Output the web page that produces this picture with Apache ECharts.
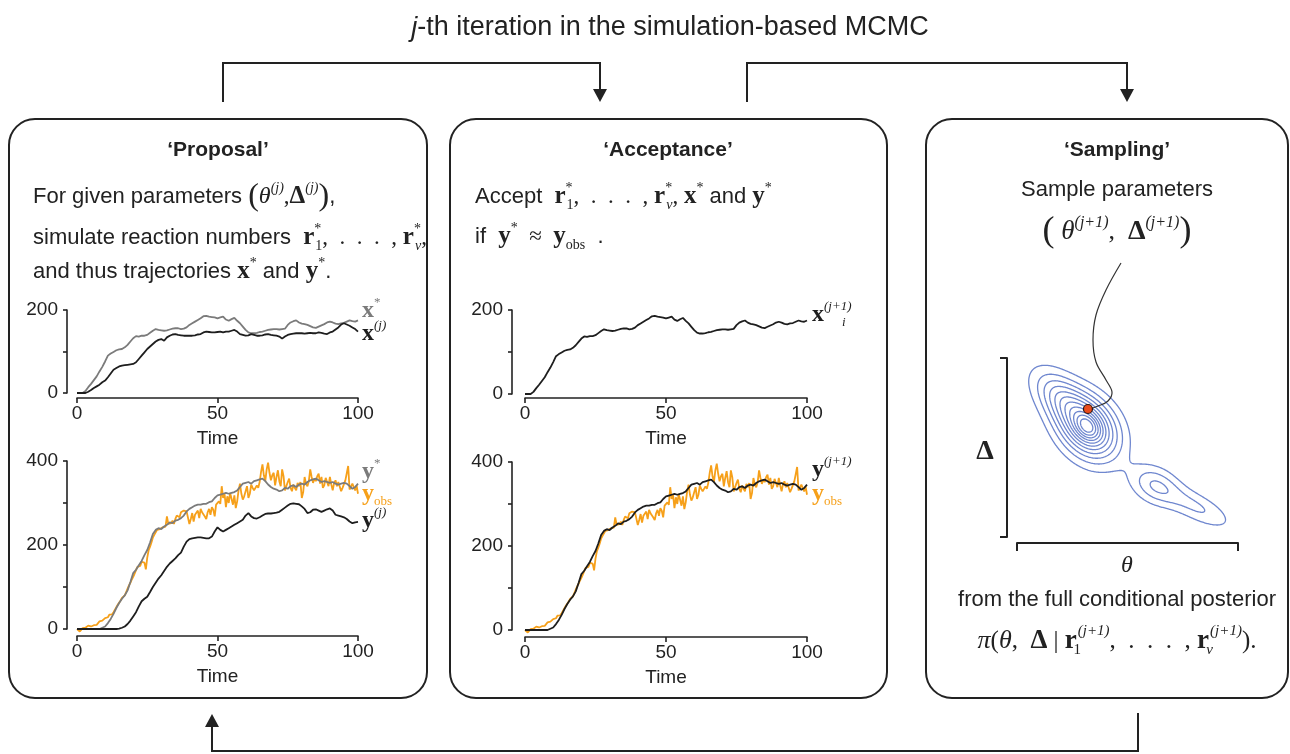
<!DOCTYPE html>
<html><head><meta charset="utf-8">
<script src="https://cdn.jsdelivr.net/npm/echarts@6/dist/echarts.min.js"></script>
<style>html,body{margin:0;padding:0;background:#fff}#c{width:1290px;height:754px}</style>
</head><body><div id="c"></div>
<script>
// ---------------- data ----------------
// trajectories sampled at t = 0,1,...,100
const xStar = [0,0,0,5,14,22,31,40,52,63,
  76,90,95,99,103,105,106,110,116,124,
  132,137,136,138,138,140,145,150,154,152,
  151,150,151,153,155,156,156,154,155,158,
  164,168,172,176,180,185,186,184,183,182,
  180,182,184,177,174,178,181,174,168,160,
  152,146,144,144,145,147,148,150,152,153,
  154,154,153,154,155,164,170,173,175,170,
  167,166,164,161,158,157,160,163,166,170,
  172,170,167,166,168,169,172,175,173,172,175];
const xPrev = [0,0,0,0,3,7,12,16,20,26,
  30,38,47,56,60,64,66,67,68,69,
  70,74,82,90,98,106,112,118,124,128,
  130,126,134,138,141,142,140,139,138,138,
  138,138,139,141,142,146,148,147,146,146,
  147,148,146,148,148,150,152,148,142,140,
  138,139,142,140,138,138,139,141,142,140,
  139,138,136,131,136,140,142,143,144,144,
  144,143,144,145,144,144,146,145,143,142,
  146,148,153,158,165,168,165,162,158,154,148];
const yStar = [0,0,0,0,0,0,0,0,0,3,
  6,14,24,36,50,62,72,80,92,112,
  133,141,152,162,176,188,206,226,236,240,
  238,244,248,254,252,258,260,264,270,280,
  286,290,294,296,296,298,298,302,304,312,
  318,320,322,324,322,324,326,330,338,346,
  348,350,346,352,354,356,358,352,344,338,
  334,332,328,330,336,334,340,342,338,344,
  346,344,350,354,356,358,354,350,352,350,
  348,350,346,344,346,348,346,340,334,338,346];
const yPrev = [0,0,0,0,0,0,0,0,0,0,
  0,0,0,0,0,1,3,6,12,20,
  30,40,54,66,72,77,88,100,110,120,
  128,138,148,156,162,168,176,182,196,208,
  214,216,217,218,218,217,216,216,220,232,
  242,236,232,236,240,244,248,252,256,260,
  270,276,268,264,263,266,270,274,275,275,
  276,277,279,284,289,294,298,299,298,297,
  292,286,276,278,284,285,282,279,282,285,
  287,282,272,270,268,266,262,256,252,254,255];
// observed data sampled at t = 0,0.5,...,100
const yObs = [0,-3,-6,-2,2,0,3,1,8,10,
  6,3,9,12,10,14,18,15,20,24,
  26,30,28,34,37,35,40,46,52,58,
  62,68,74,76,80,88,96,104,110,118,
  124,132,140,148,152,150,160,164,158,142,
  170,188,196,206,218,224,228,236,232,238,
  236,242,238,244,268,250,246,252,258,250,
  262,270,272,266,278,276,282,284,280,276,
  250,262,276,256,272,268,282,264,286,278,
  276,268,262,278,286,272,290,284,268,296,
  292,304,298,340,312,322,290,316,300,324,
  320,296,318,288,304,330,346,322,308,316,
  328,340,312,322,344,336,330,328,342,336,
  350,374,392,366,352,380,396,372,354,366,
  372,342,362,378,352,340,380,364,330,326,
  350,358,336,328,344,336,330,348,340,350,
  312,326,362,346,340,352,380,362,348,358,
  352,364,370,346,362,336,342,360,356,340,
  362,344,330,348,354,340,350,346,328,336,
  340,354,358,388,332,330,346,338,330,342,
  322];
const trajStep = 1, obsStep = 0.5;
const timeTicks = [0, 50, 100];
const xTickLabels = [0, 200];
const yTickLabels = [0, 200, 400];
// posterior density (mixture components) in (theta, Delta) units
const compTheta   = [3.21, 3.21, 2.0, 6.24, 8.1];
const compDelta   = [4.91, 4.91, 6.2, 2.32, 1.35];
const compSdMajor = [1.1, 0.45, 1.1, 0.8, 1.2];
const compSdMinor = [0.8, 0.33, 0.6, 0.55, 0.42];
const compAngle   = [-50, -50, -45, -27, -27];
const compHeight  = [0.75, 0.28, 0.35, 0.26, 0.2];
const contourLevels = [0.083,0.167,0.25,0.333,0.417,0.5,0.583,0.667,0.75,0.833,0.917];
const sampleTheta = 3.21, sampleDelta = 5.72;

// ---------------- styles ----------------
const INK = '#222222', GRAY = '#7b7b7b', BLACK = '#1e1e1e', ORANGE = '#f6a01a', BLUE = '#6f87cf';
const SANS = '"Liberation Sans", Arial, sans-serif';
const SERIF = '"Liberation Serif", "Times New Roman", serif';
const DOTS = ',  .  .  .  , ';

function R(base, color) {
  color = color || INK;
  const lh = Math.round(base * 1.4);
  const s = Math.round(base * 0.62);
  const sup = {fontFamily: SERIF, fontSize: s, fill: color, lineHeight: Math.round(lh * 0.62), verticalAlign: 'top'};
  const sub = {fontFamily: SERIF, fontSize: s, fill: color, lineHeight: Math.round(lh * 0.5), verticalAlign: 'bottom'};
  return {
    t: {fontFamily: SANS, fontSize: base, fill: color, lineHeight: lh},
    tb: {fontFamily: SANS, fontSize: base, fontWeight: 'bold', fill: color, lineHeight: lh},
    ti: {fontFamily: SANS, fontSize: base, fontStyle: 'italic', fill: color, lineHeight: lh},
    m: {fontFamily: SERIF, fontSize: base + 1, fill: color, lineHeight: lh},
    i: {fontFamily: SERIF, fontSize: base + 2, fontStyle: 'italic', fill: color, lineHeight: lh},
    b: {fontFamily: SERIF, fontSize: base + 3, fontWeight: 'bold', fill: color, lineHeight: lh},
    P: {fontFamily: SERIF, fontSize: Math.round(base * 1.45), fill: color, lineHeight: lh},
    sup: sup,
    supi: Object.assign({}, sup, {fontStyle: 'italic'}),
    supw: Object.assign({}, sup, {width: 1}),
    supiw: Object.assign({}, sup, {fontStyle: 'italic', width: 1}),
    sub: sub,
    subi: Object.assign({}, sub, {fontStyle: 'italic'}),
    subw: Object.assign({}, sub, {width: 1}),
    subiw: Object.assign({}, sub, {fontStyle: 'italic', width: 1}),
    subpad: Object.assign({}, sub, {fontStyle: 'italic', padding: [0, 0, 0, 17]})
  };
}
function txt(x, y, str, rich, align) {
  align = align || 'left';
  return {type: 'text', x: x, y: y, silent: true, z: 10,
    style: {text: str, rich: rich, align: align, textAlign: align, verticalAlign: 'middle', textVerticalAlign: 'middle'}};
}
function box(x, y, w, h) {
  return {type: 'rect', silent: true, shape: {x: x, y: y, width: w, height: h, r: 26},
    style: {fill: 'none', stroke: INK, lineWidth: 2}};
}
function pl(points) {
  return {type: 'polyline', silent: true, shape: {points: points}, style: {fill: 'none', stroke: INK, lineWidth: 2}};
}
function head(x, tipY, dir) {
  const h = 13, w = 7;
  return {type: 'polygon', silent: true, shape: {points: [[x - w, tipY - dir * h], [x + w, tipY - dir * h], [x, tipY]]}, style: {fill: INK}};
}

// ---------------- contour computation ----------------
function density(th, de) {
  let s = 0;
  for (let k = 0; k < compTheta.length; k++) {
    const a = compAngle[k] * Math.PI / 180, c = Math.cos(a), sn = Math.sin(a);
    const dx = th - compTheta[k], dy = de - compDelta[k];
    const u = (dx * c + dy * sn) / compSdMajor[k], v = (-dx * sn + dy * c) / compSdMinor[k];
    s += compHeight[k] * Math.exp(-0.5 * (u * u + v * v));
  }
  return s;
}
const G = {x0: -1, x1: 11, y0: -1, y1: 9, step: 0.04};
const NX = Math.round((G.x1 - G.x0) / G.step) + 1, NY = Math.round((G.y1 - G.y0) / G.step) + 1;
const F = [];
let fmax = 0;
for (let j = 0; j < NY; j++) {
  const row = [];
  for (let i = 0; i < NX; i++) {
    const v = density(G.x0 + i * G.step, G.y0 + j * G.step);
    row.push(v); if (v > fmax) fmax = v;
  }
  F.push(row);
}
function contourPaths(level) {
  const pts = new Map();
  function hKey(i, j) {
    const k = 'h' + i + '_' + j;
    if (!pts.has(k)) { const a = F[j][i], b = F[j][i + 1], t = (level - a) / (b - a);
      pts.set(k, [G.x0 + (i + t) * G.step, G.y0 + j * G.step]); }
    return k;
  }
  function vKey(i, j) {
    const k = 'v' + i + '_' + j;
    if (!pts.has(k)) { const a = F[j][i], b = F[j + 1][i], t = (level - a) / (b - a);
      pts.set(k, [G.x0 + i * G.step, G.y0 + (j + t) * G.step]); }
    return k;
  }
  const segs = [];
  for (let j = 0; j < NY - 1; j++) for (let i = 0; i < NX - 1; i++) {
    const a = F[j][i] >= level, b = F[j][i + 1] >= level, c = F[j + 1][i + 1] >= level, d = F[j + 1][i] >= level;
    const ks = [];
    if (a !== b) ks.push(hKey(i, j));
    if (b !== c) ks.push(vKey(i + 1, j));
    if (d !== c) ks.push(hKey(i, j + 1));
    if (a !== d) ks.push(vKey(i, j));
    if (ks.length === 2) segs.push([ks[0], ks[1]]);
    else if (ks.length === 4) { segs.push([ks[0], ks[1]]); segs.push([ks[2], ks[3]]); }
  }
  const adj = new Map();
  segs.forEach((s, idx) => s.forEach(k => { if (!adj.has(k)) adj.set(k, []); adj.get(k).push(idx); }));
  const used = new Array(segs.length).fill(false);
  const paths = [];
  function extend(arr) {
    while (true) {
      const last = arr[arr.length - 1];
      const cand = (adj.get(last) || []).find(ix => !used[ix]);
      if (cand === undefined) break;
      used[cand] = true;
      const s = segs[cand]; arr.push(s[0] === last ? s[1] : s[0]);
    }
  }
  for (let s0 = 0; s0 < segs.length; s0++) {
    if (used[s0]) continue;
    used[s0] = true;
    const path = [segs[s0][0], segs[s0][1]];
    extend(path); path.reverse(); extend(path);
    paths.push(path.map(k => pts.get(k)));
  }
  return paths;
}
const contourData = [];
contourLevels.forEach(fr => contourPaths(fr * fmax).forEach(p => contourData.push({coords: p})));

// ---------------- chart ----------------
const toPairs = (arr, step) => arr.map((v, i) => [i * step, v]);
function xAx(gi, offset) {
  return {gridIndex: gi, type: 'value', min: 0, max: 100, interval: 50, offset: offset,
    axisLine: {show: true, onZero: false, lineStyle: {color: INK, width: 1.6}},
    axisTick: {show: true, length: 5, lineStyle: {color: INK, width: 1.6}},
    axisLabel: {fontSize: 19, color: INK, margin: 6, fontFamily: SANS, formatter: v => timeTicks.includes(v) ? String(v) : ''},
    splitLine: {show: false},
    name: 'Time', nameLocation: 'middle', nameGap: 31,
    nameTextStyle: {fontSize: 19, color: INK, fontFamily: SANS}};
}
function yAx(gi, max, offset, labels) {
  return {gridIndex: gi, type: 'value', min: 0, max: max, interval: 100, offset: offset,
    axisLine: {show: true, onZero: false, lineStyle: {color: INK, width: 1.6}},
    axisTick: {show: true, length: 4, lineStyle: {color: INK, width: 1.6}},
    axisLabel: {fontSize: 19, color: INK, margin: 9, fontFamily: SANS, formatter: v => labels.includes(v) ? String(v) : ''},
    splitLine: {show: false}};
}
function line(xi, data, color, z, clip) {
  return {type: 'line', xAxisIndex: xi, yAxisIndex: xi, data: data, showSymbol: false, symbol: 'none',
    lineStyle: {color: color, width: 1.8}, z: z, clip: clip !== false, silent: true, animation: false};
}

const chart = echarts.init(document.getElementById('c'), null, {renderer: 'canvas'});

const label21 = c => R(21, c);
const body = R(22);
const graphics = [
  box(9, 119, 418, 579), box(450, 119, 437, 579), box(926, 119, 362, 579),
  pl([[223, 102], [223, 63], [600, 63], [600, 92]]), head(600, 102, 1),
  pl([[747, 102], [747, 63], [1127, 63], [1127, 92]]), head(1127, 102, 1),
  pl([[1138, 713], [1138, 751], [212, 751], [212, 724]]), head(212, 714, -1),
  txt(670, 28, '{ti|j}{t|-th iteration in the simulation-based MCMC}', R(27), 'center'),
  txt(218, 150, '{tb|‘Proposal’}', R(21), 'center'),
  txt(668, 150, '{tb|‘Acceptance’}', R(21), 'center'),
  txt(1117, 150, '{tb|‘Sampling’}', R(21), 'center'),
  txt(33, 197, '{t|For given parameters }{P|(}{i|θ}{supi|(j)}{m|,}{b|Δ}{supi|(j)}{P|)}{t|,}', body),
  txt(33, 238, '{t|simulate reaction numbers  }{b|r}{supw|*}{sub|1}{m|' + DOTS + '}{b|r}{supw|*}{subi|v}{m|,}', body),
  txt(33, 272, '{t|and thus trajectories }{b|x}{sup|*}{t| and }{b|y}{sup|*}{t|.}', body),
  txt(475, 197, '{t|Accept  }{b|r}{supw|*}{sub|1}{m|' + DOTS + '}{b|r}{supw|*}{subi|v}{m|, }{b|x}{sup|*}{t| and }{b|y}{sup|*}', body),
  txt(475, 237, '{t|if  }{b|y}{sup|*}{m|  ≈  }{b|y}{sub|obs}{t|  .}', body),
  txt(1117, 190, '{t|Sample parameters}', body, 'center'),
  txt(1117, 232, '{P|(}{i| θ}{supi|(j+1)}{m|,  }{b|Δ}{supi|(j+1)}{P|)}', R(25), 'center'),
  txt(1117, 600, '{t|from the full conditional posterior}', body, 'center'),
  txt(1117, 641, '{i|π}{m|(}{i|θ}{m|,  }{b|Δ}{m| | }{b|r}{subw|1}{supi|(j+1)}{m|' + DOTS + '}{b|r}{subiw|v}{supi|(j+1)}{m|).}', R(24), 'center'),
  txt(362, 311, '{b|x}{sup|*}', label21(GRAY)),
  txt(362, 334, '{b|x}{supi|(j)}', label21(BLACK)),
  txt(362, 472, '{b|y}{sup|*}', label21(GRAY)),
  txt(362, 494, '{b|y}{sub|obs}', label21(ORANGE)),
  txt(362, 521, '{b|y}{supi|(j)}', label21(BLACK)),
  txt(812, 315, '{b|x}{supiw|(j+1)}{subpad|i}', label21(BLACK)),
  txt(812, 470, '{b|y}{supi|(j+1)}', label21(BLACK)),
  txt(812, 494, '{b|y}{sub|obs}', label21(ORANGE)),
  txt(985, 452, '{b|Δ}', R(25), 'center'),
  txt(1127, 566, '{i|θ}', R(22), 'center'),
  {type: 'polyline', silent: true, z: 10, shape: {smooth: 0.35, points: [[1121, 263], [1106, 290], [1096, 315], [1093, 340], [1096, 362], [1106, 380], [1112, 392], [1108, 401], [1098, 406], [1089, 409]]},
    style: {fill: 'none', stroke: '#333', lineWidth: 1.2}}
];

const option = {
  animation: false,
  backgroundColor: '#ffffff',
  grid: [
    {left: 77, top: 310, width: 281, height: 83, containLabel: false, outerBoundsMode: 'none'},
    {left: 77, top: 461, width: 281, height: 168, containLabel: false, outerBoundsMode: 'none'},
    {left: 525, top: 310, width: 282, height: 84, containLabel: false, outerBoundsMode: 'none'},
    {left: 525, top: 462, width: 282, height: 168, containLabel: false, outerBoundsMode: 'none'},
    {left: 1017, top: 358, width: 221, height: 179, containLabel: false, outerBoundsMode: 'none'}
  ],
  xAxis: [
    xAx(0, 5), xAx(1, 7), xAx(2, 4), xAx(3, 7),
    {gridIndex: 4, type: 'value', min: 0, max: 10, interval: 10, offset: 6,
      axisLine: {show: true, onZero: false, lineStyle: {color: INK, width: 2}},
      axisTick: {show: true, length: 8, lineStyle: {color: INK, width: 2}},
      axisLabel: {show: false}, splitLine: {show: false}}
  ],
  yAxis: [
    yAx(0, 200, 10, xTickLabels), yAx(1, 400, 10, yTickLabels), yAx(2, 200, 13, xTickLabels), yAx(3, 400, 13, yTickLabels),
    {gridIndex: 4, type: 'value', min: 0, max: 8, interval: 8, offset: 10,
      axisLine: {show: true, onZero: false, lineStyle: {color: INK, width: 2}},
      axisTick: {show: true, length: 7, lineStyle: {color: INK, width: 2}},
      axisLabel: {show: false}, splitLine: {show: false}}
  ],
  series: [
    line(0, toPairs(xStar, trajStep), GRAY, 2),
    line(0, toPairs(xPrev, trajStep), BLACK, 3),
    line(1, toPairs(yObs, obsStep), ORANGE, 2, false),
    line(1, toPairs(yStar, trajStep), GRAY, 3),
    line(1, toPairs(yPrev, trajStep), BLACK, 4),
    line(2, toPairs(xStar, trajStep), BLACK, 3),
    line(3, toPairs(yObs, obsStep), ORANGE, 2, false),
    line(3, toPairs(yStar, trajStep), BLACK, 3),
    {type: 'lines', coordinateSystem: 'cartesian2d', xAxisIndex: 4, yAxisIndex: 4, polyline: true, clip: false,
      data: contourData, lineStyle: {color: BLUE, width: 1.3, opacity: 1}, silent: true, animation: false, z: 2},
    {type: 'scatter', xAxisIndex: 4, yAxisIndex: 4, data: [[sampleTheta, sampleDelta]], symbolSize: 9,
      itemStyle: {color: '#ea4b1c', borderColor: '#2a1410', borderWidth: 1.2, opacity: 1}, z: 12, silent: true, animation: false}
  ],
  graphic: graphics
};
chart.setOption(option);
</script>
</body></html>
